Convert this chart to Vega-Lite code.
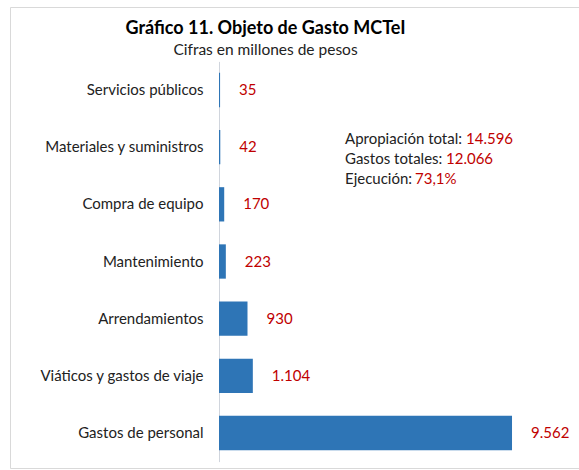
{
  "$schema": "https://vega.github.io/schema/vega-lite/v6.json",
  "width": 569,
  "height": 461,
  "autosize": {"type": "none"},
  "padding": {"left": 10, "top": 7, "right": 0, "bottom": 2},
  "title": {
    "text": "Gráfico 11. Objeto de Gasto MCTeI",
    "subtitle": "Cifras en millones de pesos",
    "anchor": "middle",
    "frame": "group",
    "dx": -29,
    "offset": -51,
    "font": "Lato",
    "fontSize": 18,
    "fontWeight": "bold",
    "color": "#000000",
    "subtitleFont": "Lato",
    "subtitleFontSize": 15.5,
    "subtitleColor": "#222222",
    "subtitlePadding": 5
  },
  "config": {
    "view": {"stroke": "#d9d9d9", "strokeWidth": 1},
    "font": "Lato",
    "locale": {"number": {"decimal": ",", "thousands": ".", "grouping": [3], "currency": ["$", ""]}}
  },
  "layer": [
    {
      "data": {
        "values": [
          {"cat": "Servicios públicos", "value": 35},
          {"cat": "Materiales y suministros", "value": 42},
          {"cat": "Compra de equipo", "value": 170},
          {"cat": "Mantenimiento", "value": 223},
          {"cat": "Arrendamientos", "value": 930},
          {"cat": "Viáticos y gastos de viaje", "value": 1104},
          {"cat": "Gastos de personal", "value": 9562}
        ]
      },
      "encoding": {
        "y": {
          "field": "cat",
          "type": "nominal",
          "sort": null,
          "scale": {"range": [54.4, 454.6], "paddingInner": 0.4, "paddingOuter": 0.2},
          "axis": {
            "orient": "left",
            "offset": -209,
            "title": null,
            "ticks": false,
            "labelPadding": 16,
            "labelFontSize": 15,
            "labelFont": "Lato",
            "labelColor": "#222222",
            "domainColor": "#d0d5dd",
            "labelLimit": 300
          }
        },
        "x": {
          "field": "value",
          "type": "quantitative",
          "scale": {"domain": [0, 11748], "range": [209, 569], "nice": false, "zero": true},
          "axis": null
        }
      },
      "layer": [
        {"mark": {"type": "bar", "color": "#2e75b6"}},
        {
          "mark": {"type": "text", "align": "left", "dx": 19, "baseline": "middle", "color": "#c00000", "fontSize": 15, "font": "Lato"},
          "encoding": {"text": {"field": "value", "type": "quantitative", "format": ",d"}}
        }
      ]
    },
    {
      "data": {
        "values": [
          {"line": 1, "label": "Apropiación total:", "num": "14.596"},
          {"line": 2, "label": "Gastos totales:", "num": "12.066"},
          {"line": 3, "label": "Ejecución:", "num": "73,1%"}
        ]
      },
      "encoding": {
        "y": {
          "field": "line",
          "type": "quantitative",
          "scale": {"domain": [-5.6, 17.45], "reverse": true, "nice": false, "zero": false},
          "axis": null
        }
      },
      "layer": [
        {
          "mark": {"type": "text", "align": "left", "baseline": "middle", "color": "#222222", "fontSize": 15, "font": "Lato"},
          "encoding": {"x": {"datum": 4112, "type": "quantitative"}, "text": {"field": "label", "type": "nominal"}}
        },
        {
          "transform": [{"filter": "datum.line == 1"}],
          "mark": {"type": "text", "align": "left", "baseline": "middle", "color": "#c00000", "fontSize": 15, "font": "Lato"},
          "encoding": {"x": {"datum": 8061, "type": "quantitative"}, "text": {"field": "num", "type": "nominal"}}
        },
        {
          "transform": [{"filter": "datum.line == 2"}],
          "mark": {"type": "text", "align": "left", "baseline": "middle", "color": "#c00000", "fontSize": 15, "font": "Lato"},
          "encoding": {"x": {"datum": 7408, "type": "quantitative"}, "text": {"field": "num", "type": "nominal"}}
        },
        {
          "transform": [{"filter": "datum.line == 3"}],
          "mark": {"type": "text", "align": "left", "baseline": "middle", "color": "#c00000", "fontSize": 15, "font": "Lato"},
          "encoding": {"x": {"datum": 6396, "type": "quantitative"}, "text": {"field": "num", "type": "nominal"}}
        }
      ]
    }
  ],
  "resolve": {"scale": {"y": "independent"}}
}
